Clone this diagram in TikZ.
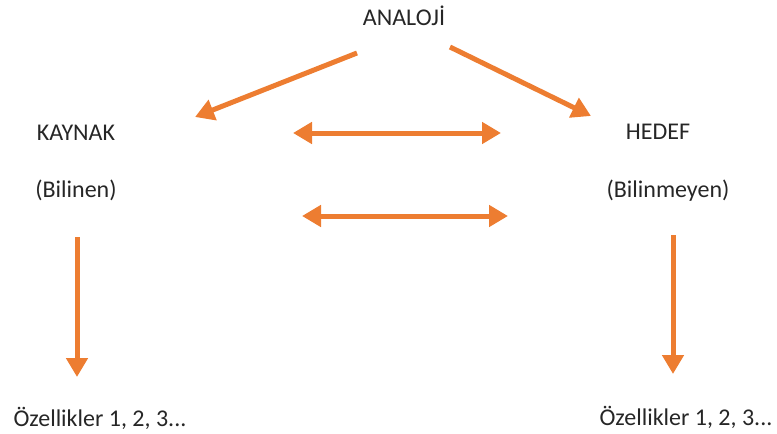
\documentclass[tikz,border=0pt]{standalone}
\usepackage{fontspec}
\setmainfont{Carlito}
\usetikzlibrary{arrows.meta}
\definecolor{turuncu}{HTML}{ED7D31}
\tikzset{
  ok/.style={draw=turuncu, line width=5pt, -{Triangle[width=21pt,length=19pt]}},
  ciftok/.style={ok, {Triangle[width=21pt,length=19pt]}-{Triangle[width=21pt,length=19pt]}},
  yazi/.style={font=\fontsize{24}{28}\selectfont, text=black!85, inner sep=0pt, anchor=base}
}
\begin{document}
\begin{tikzpicture}[x=1pt, y=-1pt]
\useasboundingbox (0,0) rectangle (777,434);
% etiketler
\node[yazi] (analoji) at (404,25) {ANALOJİ};
\node[yazi] (kaynak) at (76,140) {KAYNAK};
\node[yazi] (bilinen) at (76,197) {(Bilinen)};
\node[yazi] (hedef) at (658,139) {HEDEF};
\node[yazi] (bilinmeyen) at (668,197) {(Bilinmeyen)};
\node[yazi] (ozk) at (100,426) {Özellikler 1, 2, 3...};
\node[yazi] (ozh) at (686,425) {Özellikler 1, 2, 3...};
% ok uclari
\coordinate (a1) at (357,53);  \coordinate (a2) at (195,117);
\coordinate (b1) at (450,47);  \coordinate (b2) at (591,116);
\coordinate (c1) at (293,133); \coordinate (c2) at (501,133);
\coordinate (d1) at (302,216); \coordinate (d2) at (508,216);
\coordinate (e1) at (77,237);  \coordinate (e2) at (77,377);
\coordinate (f1) at (673,235); \coordinate (f2) at (673,374);
% oklar
\draw[ok] (a1) -- (a2);
\draw[ok] (b1) -- (b2);
\draw[ciftok] (c1) -- (c2);
\draw[ciftok] (d1) -- (d2);
\draw[ok] (e1) -- (e2);
\draw[ok] (f1) -- (f2);
\end{tikzpicture}
\end{document}
